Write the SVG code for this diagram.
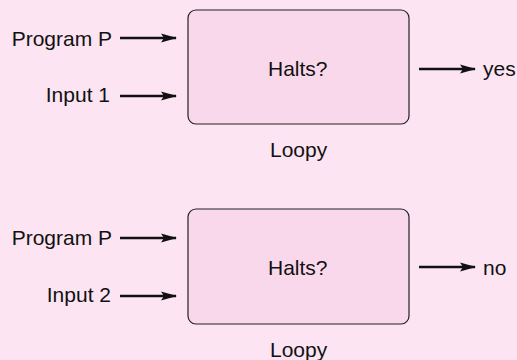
<svg xmlns="http://www.w3.org/2000/svg" width="517" height="360" viewBox="0 0 517 360">
<style>
text{font-family:"Liberation Sans",Arial,sans-serif;font-size:21px;fill:#111}
.box{fill:#f9d8ec;stroke:#222;stroke-width:1.2}
</style>
<defs>
<marker id="ah" viewBox="0 0 16 10" refX="15" refY="5" markerWidth="16" markerHeight="10" markerUnits="userSpaceOnUse" orient="auto">
<path d="M0,0.5 L16,5 L0,9.5 L3,5 Z" fill="#111"/>
</marker>
</defs>
<rect width="517" height="360" fill="#fce4f2"/>
<g id="node1">
<rect class="box" x="188" y="10" width="221" height="114" rx="8"/>
<text x="268" y="76">Halts?</text>
<text x="270" y="157">Loopy</text>
</g>
<g id="node2">
<rect class="box" x="188" y="209" width="221" height="115" rx="8"/>
<text x="268" y="275">Halts?</text>
<text x="270" y="357">Loopy</text>
</g>
<g id="labels">
<text x="112" y="46" text-anchor="end">Program P</text>
<text x="110" y="102" text-anchor="end">Input 1</text>
<text x="483" y="76">yes</text>
<text x="112" y="245" text-anchor="end">Program P</text>
<text x="111" y="302" text-anchor="end">Input 2</text>
<text x="483" y="275">no</text>
</g>
<g id="connectors" stroke="#111" stroke-width="2.4" fill="none">
<path d="M120,38 H176" marker-end="url(#ah)"/>
<path d="M120,96 H176" marker-end="url(#ah)"/>
<path d="M419,69 H475" marker-end="url(#ah)"/>
<path d="M120,238 H176" marker-end="url(#ah)"/>
<path d="M120,296 H176" marker-end="url(#ah)"/>
<path d="M419,267 H475" marker-end="url(#ah)"/>
</g>
</svg>
